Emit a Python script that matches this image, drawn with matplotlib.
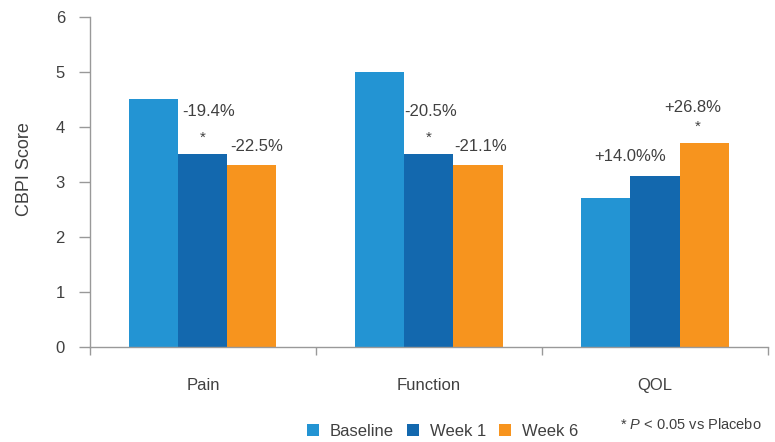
import matplotlib
matplotlib.use("Agg")
import matplotlib.pyplot as plt
import numpy as np

categories = ["Pain", "Function", "QOL"]
series = ["Baseline", "Week 1", "Week 6"]
baseline = [4.5, 5.0, 2.7]
week1 = [3.5, 3.5, 3.1]
week6 = [3.3, 3.3, 3.7]
week1_labels = ["-19.4%", "-20.5%", "+14.0%%"]
week6_labels = ["-22.5%", "-21.1%", "+26.8%"]
week1_sig = [True, True, False]
week6_sig = [False, False, True]
yticks = [0, 1, 2, 3, 4, 5, 6]

colors = ["#2394d3", "#1368ae", "#f7941e"]
txt = "#404040"

plt.rcParams["font.family"] = ["Liberation Sans", "DejaVu Sans"]
plt.rcParams["mathtext.fontset"] = "custom"
plt.rcParams["mathtext.it"] = "Liberation Sans:italic"
plt.rcParams["mathtext.rm"] = "Liberation Sans"

fig = plt.figure(figsize=(7.75, 4.42), dpi=100)
ax = fig.add_axes([0.116, 0.215, 0.875, 0.747])

x = np.arange(len(categories))
w = 0.217
handles = []
for i, (vals, c, name) in enumerate(zip([baseline, week1, week6], colors, series)):
    b = ax.bar(x + (i - 1) * w, vals, w, color=c, label=name, zorder=2)
    handles.append(b)

# labels
lab_off1 = [0.025, 0.008, -0.11]
lab_off6 = [0.02, 0.011, -0.05]
for j in range(len(categories)):
    xc = x[j]
    h = week1[j]
    if week1_sig[j]:
        ax.text(xc, h + 0.3, "*", ha="center", va="center", fontsize=11, color=txt)
        ax.text(xc + lab_off1[j], h + 0.77, week1_labels[j], ha="center", va="center", fontsize=12, color=txt)
    else:
        ax.text(xc + lab_off1[j], h + 0.37, week1_labels[j], ha="center", va="center", fontsize=12, color=txt)
    xc6 = x[j] + w
    h6 = week6[j]
    if week6_sig[j]:
        ax.text(xc6 - 0.03, h6 + 0.3, "*", ha="center", va="center", fontsize=11, color=txt)
        ax.text(xc6 + lab_off6[j], h6 + 0.65, week6_labels[j], ha="center", va="center", fontsize=12, color=txt)
    else:
        ax.text(xc6 + lab_off6[j], h6 + 0.35, week6_labels[j], ha="center", va="center", fontsize=12, color=txt)

ax.set_xlim(-0.5, len(categories) - 0.5)
ax.set_ylim(0, 6)
ax.set_yticks(yticks)
ax.set_yticklabels([str(t) for t in yticks])
ax.set_xticks(x)
ax.set_xticklabels(categories)
ax.set_xticks(np.arange(len(categories) + 1) - 0.5, minor=True)
ax.tick_params(axis="x", which="major", length=0, pad=22, labelsize=12, labelcolor=txt)
ax.tick_params(axis="x", which="minor", length=6, color="#999999", width=1)
ax.tick_params(axis="y", length=8, color="#999999", width=1, labelsize=12, labelcolor=txt, pad=10)
for s in ["top", "right"]:
    ax.spines[s].set_visible(False)
for s in ["left", "bottom"]:
    ax.spines[s].set_color("#999999")
    ax.spines[s].set_linewidth(1)
ax.set_ylabel("CBPI Score", fontsize=13, color=txt)
ax.yaxis.set_label_coords(-0.084, 0.54)

fig.legend(handles=handles, labels=series, loc="center", bbox_to_anchor=(0.571, 0.024),
           ncol=3, frameon=False, fontsize=12, handlelength=0.75, handleheight=0.75,
           handletextpad=0.65, columnspacing=0.75, labelcolor=txt)
fig.text(0.8, 0.04, r"* $\it{P}$ < 0.05 vs Placebo", fontsize=10.5, color=txt, ha="left", va="center")

fig.savefig("out.png", dpi=100)
